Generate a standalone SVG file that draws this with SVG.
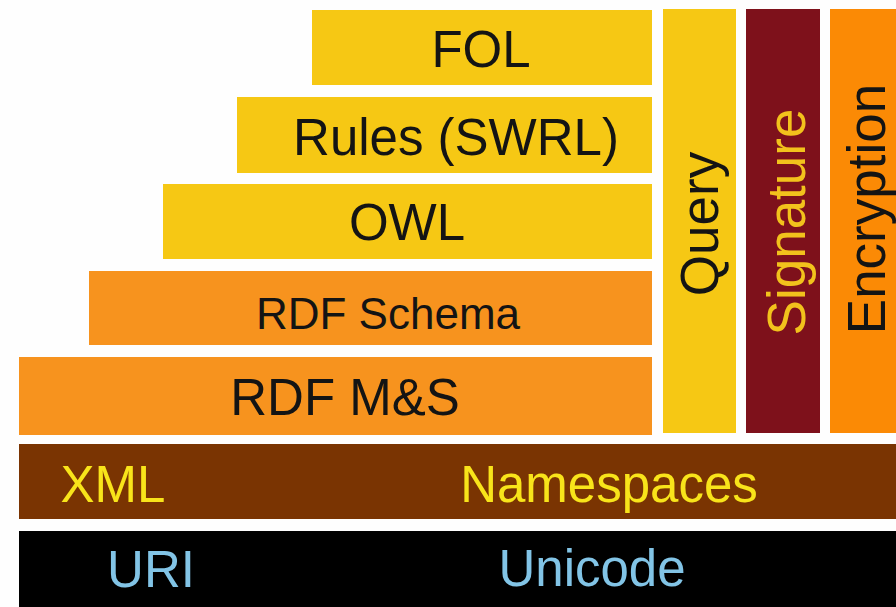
<svg xmlns="http://www.w3.org/2000/svg" width="896" height="607" viewBox="0 0 896 607">
<style>
text{font-family:"Liberation Sans",Arial,Helvetica,sans-serif;text-anchor:middle}
.yel{fill:#f6c814}
.org{fill:#f7931e}
.dark{fill:#141414}
.t50{font-size:51px}
.t44{font-size:44px}
</style>
<rect x="0" y="0" width="896" height="607" fill="#fefefe"/>
<g id="fol"><rect class="yel" x="312" y="10" width="340" height="75"/><text class="dark t50" x="481" y="67">FOL</text></g>
<g id="rules"><rect class="yel" x="237" y="97" width="415" height="76"/><text class="dark t50" x="456" y="155">Rules (SWRL)</text></g>
<g id="owl"><rect class="yel" x="163" y="184" width="489" height="75"/><text class="dark t50" x="407" y="240">OWL</text></g>
<g id="rdfs"><rect class="org" x="89" y="271" width="563" height="74"/><text class="dark t44" x="388" y="329">RDF Schema</text></g>
<g id="rdfms"><rect class="org" x="19" y="357" width="633" height="78"/><text class="dark t50" x="345" y="415">RDF M&amp;S</text></g>
<g id="query"><rect class="yel" x="663" y="9" width="73" height="424"/><text class="dark" font-size="53" transform="translate(718,224) rotate(-90)">Query</text></g>
<g id="signature"><rect fill="#7e111b" x="746" y="9" width="74" height="424"/><text fill="#f2c21c" font-size="53" transform="translate(805,222) rotate(-90)">Signature</text></g>
<g id="encryption"><rect fill="#fb8a05" x="830" y="9" width="66" height="424"/><text class="dark" font-size="53" transform="translate(885,209) rotate(-90)">Encryption</text></g>
<g id="xmlns"><rect fill="#7a3402" x="19" y="444" width="877" height="75"/><text fill="#f8e41a" class="t50" x="113" y="502">XML</text><text fill="#f8e41a" class="t50" x="609" y="502">Namespaces</text></g>
<g id="uri"><rect fill="#000" x="19" y="531" width="877" height="76"/><text fill="#82c4e6" class="t50" x="151" y="587">URI</text><text fill="#82c4e6" class="t50" x="592" y="586">Unicode</text></g>
<g id="connectors"></g>
</svg>
